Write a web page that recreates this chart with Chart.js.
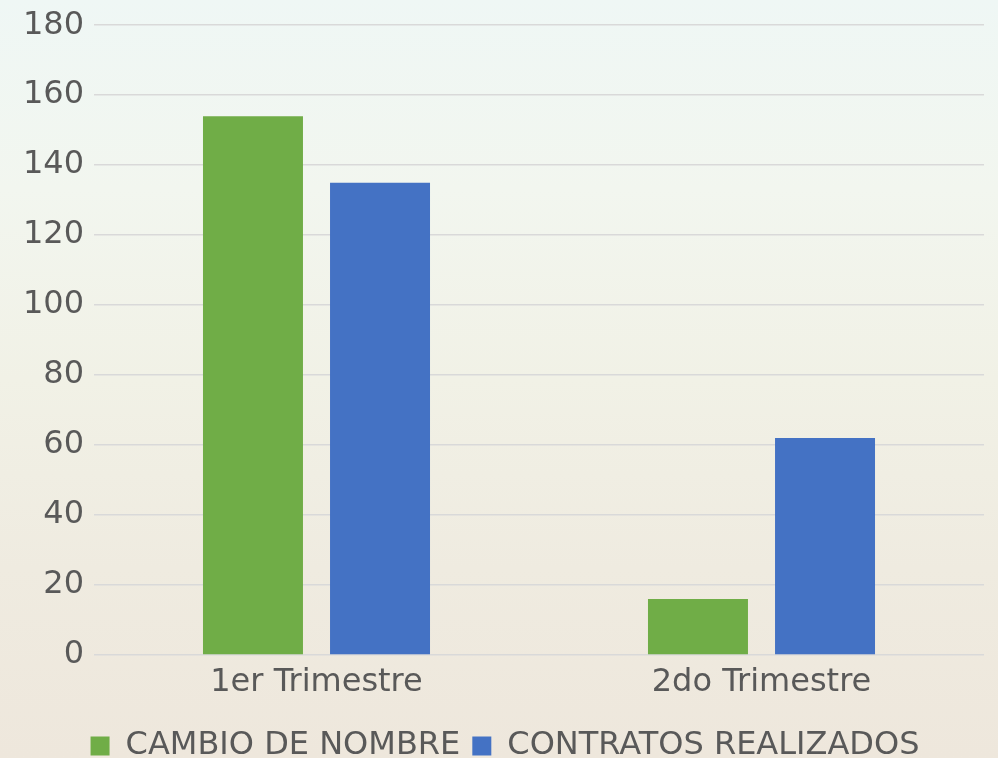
<!DOCTYPE html>
<html>
<head>
<meta charset="utf-8">
<script src="https://cdn.jsdelivr.net/npm/chart.js@4.4.0/dist/chart.umd.min.js"></script>
<style>
  html, body { margin: 0; padding: 0; }
  body {
    width: 998px; height: 758px; overflow: hidden;
    background: linear-gradient(180deg, #eff7f5 0%, #f2f6ef 25%, #f1f1e6 50%, #efebe0 75%, #eee7dc 100%);
  }
  /* canvas runs a little past the window so the legend sits low like the original */
  #wrap { position: relative; width: 998px; height: 776px; margin-top: -4px; }
</style>
</head>
<body>
<div id="wrap"><canvas id="chart"></canvas></div>
<script>
// Chart data
const categories = ['1er Trimestre', '2do Trimestre'];
const cambioNombre = [154, 16];
const contratosRealizados = [135, 62];
const yTicks = [0, 20, 40, 60, 80, 100, 120, 140, 160, 180];

const textColor = '#595959';
const fontFamily = "'DejaVu Sans', sans-serif";

const ctx = document.getElementById('chart').getContext('2d');
const chart = new Chart(ctx, {
    type: 'bar',
    data: {
        labels: categories,
        datasets: [{
            label: 'CAMBIO DE NOMBRE',
            data: cambioNombre,
            backgroundColor: '#70ad47',
            borderWidth: 0,
            categoryPercentage: 0.571,
            barPercentage: 0.787
        }, {
            label: 'CONTRATOS REALIZADOS',
            data: contratosRealizados,
            backgroundColor: '#4472c4',
            borderWidth: 0,
            categoryPercentage: 0.571,
            barPercentage: 0.787
        }]
    },
    options: {
        responsive: true,
        maintainAspectRatio: false,
        animation: false,
        layout: {
            padding: { top: 4, right: 14, bottom: 0, left: 26 }
        },
        plugins: {
            tooltip: { enabled: false },
            legend: {
                position: 'bottom',
                labels: {
                    color: textColor,
                    font: { family: fontFamily, size: 32 },
                    boxWidth: 19,
                    boxHeight: 19,
                    padding: 12
                }
            }
        },
        scales: {
            x: {
                afterFit: function(scale) { scale.height = 63; },
                grid: { display: false, drawTicks: false },
                border: { display: false },
                ticks: {
                    color: textColor,
                    font: { family: fontFamily, size: 32 },
                    padding: 8
                }
            },
            y: {
                min: 0,
                max: 180,
                afterFit: function(scale) { scale.width = 68; },
                afterBuildTicks: function(scale) {
                    scale.ticks = yTicks.map(v => ({ value: v }));
                },
                grid: { color: '#d9d9d9', lineWidth: 1.5, drawTicks: false },
                border: { display: false },
                ticks: {
                    color: textColor,
                    font: { family: fontFamily, size: 32 },
                    padding: 10
                }
            }
        }
    }
});
</script>
</body>
</html>
